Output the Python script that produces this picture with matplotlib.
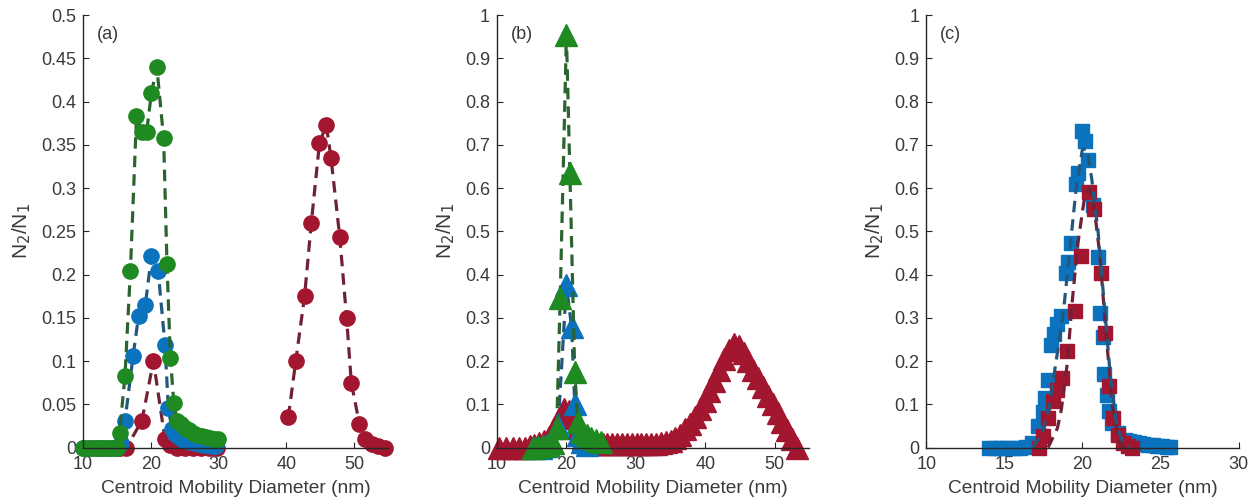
import numpy as np
import matplotlib
matplotlib.use("Agg")
import matplotlib.pyplot as plt

plt.rcParams['font.family'] = ['Liberation Sans', 'DejaVu Sans']

NAN = np.nan

# ---- panel (a): circles ----
a_green_x = [10, 10.5, 11, 11.5, 12, 12.5, 13, 13.5, 14, 14.5, 15, 15.4, 16.2, 17.0, 17.9, 18.7,
             19.4, 20.1, 20.9, 21.9, 22.4, 22.9, 23.4, 23.9, 24.5, 25.1, 25.7, 26.3, 26.9,
             27.5, 28.1, 28.7, 29.3, 29.9]
a_green_y = [0, 0, 0, 0, 0, 0, 0, 0, 0, 0, 0, 0.017, 0.083, 0.204, 0.383, 0.365,
             0.365, 0.41, 0.44, 0.358, 0.212, 0.104, 0.052, 0.031, 0.027, 0.023, 0.02, 0.017, 0.015,
             0.013, 0.012, 0.011, 0.01, 0.01]

a_blue_x = [10, 11, 12, 13, 14, 15, 15.6, 16.2, 17.4, 18.2, 19.2, 20.1, 21.1, 22.1, 22.6, 23.1,
            23.6, 24.2, 24.8, 25.4, 26.0, 26.6, 27.2, 27.8, 28.4, 29.0, 29.6]
a_blue_y = [0, 0, 0, 0, 0, 0, 0.005, 0.031, 0.106, 0.152, 0.165, 0.221, 0.204, 0.119, 0.046, 0.022,
            0.016, 0.012, 0.009, 0.007, 0.006, 0.005, 0.004, 0.003, 0.003, 0.002, 0.002]

a_red_x = [15.5, 16.4, 18.7, 20.4, 22.1, 22.9, 23.9, 25.0, 26.2, 27.4, 28.6, 29.8, NAN,
           40.3, 41.4, 42.7, 43.7, 44.9, 45.9, 46.6, 47.9, 48.9, 49.6, 50.8, 51.6, 52.6, 53.6, 54.6]
a_red_y = [0, 0, 0.031, 0.1, 0.01, 0.003, 0, 0, 0, 0, 0, 0, NAN,
           0.035, 0.1, 0.175, 0.26, 0.352, 0.373, 0.335, 0.243, 0.15, 0.075, 0.027, 0.01, 0.004, 0.002, 0]

# ---- panel (b): triangles ----
b_red_x = [10.3, 11.3, 12.3, 13.2, 14.0, 14.7, 15.4, 16.1, 16.8, 17.5, 18.2, 18.9, 19.6, 20.3,
           21.0, 21.7, 22.4, 23.1, 23.8, 24.5, 25.2, 25.9, 26.6, 27.3, 28.0, 28.7, 29.4, 30.1,
           30.8, 31.5, 32.2, 32.9, 33.6, 34.3, 35.0, 35.7, 36.4, 37.1, 37.8, 38.5, 39.2, 39.9,
           40.6, 41.3, 42.0, 42.7, 43.4, 44.1, 44.8, 45.5, 46.2, 46.9, 47.6, 48.3, 49.0, 49.7,
           50.4, 51.1, 51.8, 52.5, 53.2]
b_red_y = [0, 0, 0, 0, 0, 0.003, 0.006, 0.01, 0.016, 0.025, 0.045, 0.068, 0.088, 0.084,
           0.07, 0.045, 0.02, 0.01, 0.008, 0.008, 0.008, 0.008, 0.008, 0.008, 0.008, 0.008, 0.008, 0.008,
           0.008, 0.008, 0.008, 0.009, 0.01, 0.012, 0.016, 0.022, 0.03, 0.042, 0.055, 0.07, 0.088, 0.107,
           0.13, 0.155, 0.18, 0.205, 0.225, 0.24, 0.235, 0.218, 0.2, 0.18, 0.16, 0.14, 0.12, 0.1,
           0.08, 0.06, 0.04, 0.02, 0]

b_blue_x = [15.5, 16.3, 17.1, 17.9, 18.8, 20.0, 20.75, 21.2, 21.7, 22.3, 23.0]
b_blue_y = [0, 0, 0.003, 0.01, 0.05, 0.375, 0.278, 0.1, 0.03, 0.012, 0.005]

b_green_x = [15.2, 15.9, 16.6, 17.3, 18.0, 18.6, 19.1, 20.0, 20.5, 21.2, 21.65, 22.2, 22.9,
             23.6, 24.3, 25.0]
b_green_y = [0, 0.002, 0.004, 0.006, 0.01, 0.045, 0.345, 0.954, 0.634, 0.174, 0.06, 0.035, 0.028,
             0.022, 0.017, 0.012]

# ---- panel (c): squares + fitted curves ----
c_blue_x = [14.0, 14.4, 14.8, 15.2, 15.6, 16.0, 16.4, 16.8, 17.15, 17.47, 17.58, 17.8, 18.0,
            18.2, 18.4, 18.6, 18.96, 19.06, 19.28, 19.6, 19.7, 19.94, 20.15, 20.35, 20.7, 21.0,
            21.15, 21.3, 21.4, 21.55, 21.7, 21.9, 22.25, 22.7, 23.0, 23.3, 23.6, 23.9, 24.2,
            24.5, 24.8, 25.1, 25.4, 25.6]
c_blue_y = [0, 0, 0, 0, 0, 0, 0.002, 0.01, 0.049, 0.083, 0.114, 0.157, 0.238,
            0.262, 0.285, 0.304, 0.404, 0.428, 0.474, 0.61, 0.636, 0.733, 0.71, 0.664, 0.56, 0.44,
            0.31, 0.255, 0.169, 0.122, 0.084, 0.056, 0.033, 0.018, 0.015, 0.012, 0.01, 0.008, 0.006,
            0.005, 0.004, 0.003, 0.002, 0.001]

c_red_x = [17.2, 17.5, 17.8, 18.1, 18.4, 18.7, 19.0, 19.5, 19.9, 20.4, 20.75, 21.2, 21.45,
           21.7, 21.95, 22.3, 22.6, 22.9, 23.2]
c_red_y = [0, 0.026, 0.068, 0.107, 0.134, 0.161, 0.223, 0.316, 0.443, 0.59, 0.551, 0.404, 0.265,
           0.142, 0.068, 0.03, 0.01, 0.003, 0]

c_blue_fit_x = [16.8, 17.4, 17.9, 18.4, 18.8, 19.2, 19.6, 20.0, 20.3, 20.6, 21.0, 21.4, 21.8,
                22.2, 22.6, 23.0]
c_blue_fit_y = [0, 0.03, 0.1, 0.22, 0.32, 0.46, 0.6, 0.69, 0.69, 0.62, 0.5, 0.33, 0.16,
                0.05, 0.01, 0]
c_red_fit_x = [17.8, 18.4, 18.65, 19.05, 19.3, 19.7, 20.1, 20.4, 20.7, 21.1, 21.5, 21.9, 22.3, 22.6]
c_red_fit_y = [0, 0.045, 0.088, 0.2, 0.32, 0.47, 0.57, 0.6, 0.57, 0.45, 0.27, 0.1, 0.02, 0]

# colours (marker, dashed line)
GREEN, GREEN_LN = '#1f8a22', '#2c6430'
BLUE, BLUE_LN = '#0b72bd', '#23587e'
RED, RED_LN = '#a3162f', '#6e2234'
TXT = '#3a3a3a'


def series(ax, x, y, mcol, lcol, marker, ms, z, line=True):
    if line:
        ax.plot(x, y, '--', color=lcol, lw=2.3, dashes=(3.6, 2.2), zorder=z, clip_on=False)
    ax.plot(x, y, linestyle='none', marker=marker, ms=ms, mfc=mcol, mec=mcol,
            zorder=z + 0.5, clip_on=False)


def style(ax, xlim, xticks, ylim, yticks, ylabels, tag):
    ax.set_xlim(*xlim)
    ax.set_ylim(*ylim)
    ax.set_xticks(xticks)
    ax.set_xticklabels([str(t) for t in xticks])
    ax.set_yticks(yticks)
    ax.set_yticklabels(ylabels)
    for s in ['top', 'right']:
        ax.spines[s].set_visible(False)
    for s in ['left', 'bottom']:
        ax.spines[s].set_color('#262626')
        ax.spines[s].set_linewidth(1.0)
        ax.spines[s].set_zorder(10)
    ax.tick_params(direction='in', length=4, width=0.8, colors='#262626',
                   labelcolor=TXT, labelsize=13)
    ax.tick_params(axis='x', pad=6)
    ax.tick_params(axis='y', pad=5)
    ax.set_xlabel('Centroid Mobility Diameter (nm)', fontsize=13.8, color=TXT, labelpad=5)
    ax.set_ylabel('N$_2$/N$_1$', fontsize=15, color=TXT, labelpad=6)
    ax.text(0.045, 0.955, tag, transform=ax.transAxes, fontsize=13, color=TXT,
            ha='left', va='center')


fig = plt.figure(figsize=(12.55, 5.04), dpi=100)
ax_a = fig.add_axes([0.0661, 0.112, 0.243, 0.858])
ax_b = fig.add_axes([0.396, 0.112, 0.249, 0.858])
ax_c = fig.add_axes([0.738, 0.112, 0.249, 0.858])

# (a)
series(ax_a, a_red_x, a_red_y, RED, RED_LN, 'o', 11, 2)
series(ax_a, a_blue_x, a_blue_y, BLUE, BLUE_LN, 'o', 11, 3)
series(ax_a, a_green_x, a_green_y, GREEN, GREEN_LN, 'o', 11, 4)
style(ax_a, (10, 55), [10, 20, 30, 40, 50], (0, 0.5),
      np.arange(0, 0.51, 0.05), ['0', '0.05', '0.1', '0.15', '0.2', '0.25', '0.3', '0.35',
                                 '0.4', '0.45', '0.5'], '(a)')

# (b)
series(ax_b, b_red_x, b_red_y, RED, RED_LN, '^', 16, 2)
series(ax_b, b_blue_x, b_blue_y, BLUE, BLUE_LN, '^', 16, 3)
series(ax_b, b_green_x, b_green_y, GREEN, GREEN_LN, '^', 16, 4)
style(ax_b, (10, 55), [10, 20, 30, 40, 50], (0, 1),
      np.arange(0, 1.01, 0.1), ['0', '0.1', '0.2', '0.3', '0.4', '0.5', '0.6', '0.7',
                                '0.8', '0.9', '1'], '(b)')

# (c)
series(ax_c, c_blue_x, c_blue_y, BLUE, BLUE_LN, 's', 10, 2, line=False)
series(ax_c, c_red_x, c_red_y, RED, RED_LN, 's', 10, 3, line=False)
ax_c.plot(c_red_fit_x, c_red_fit_y, '--', color=RED_LN, lw=2.3, dashes=(3.6, 2.2), zorder=5)
ax_c.plot(c_blue_fit_x, c_blue_fit_y, '--', color=BLUE_LN, lw=2.3, dashes=(3.6, 2.2), zorder=5)
style(ax_c, (10, 30), [10, 15, 20, 25, 30], (0, 1),
      np.arange(0, 1.01, 0.1), ['0', '0.1', '0.2', '0.3', '0.4', '0.5', '0.6', '0.7',
                                '0.8', '0.9', '1'], '(c)')

fig.savefig('out.png', dpi=100)
